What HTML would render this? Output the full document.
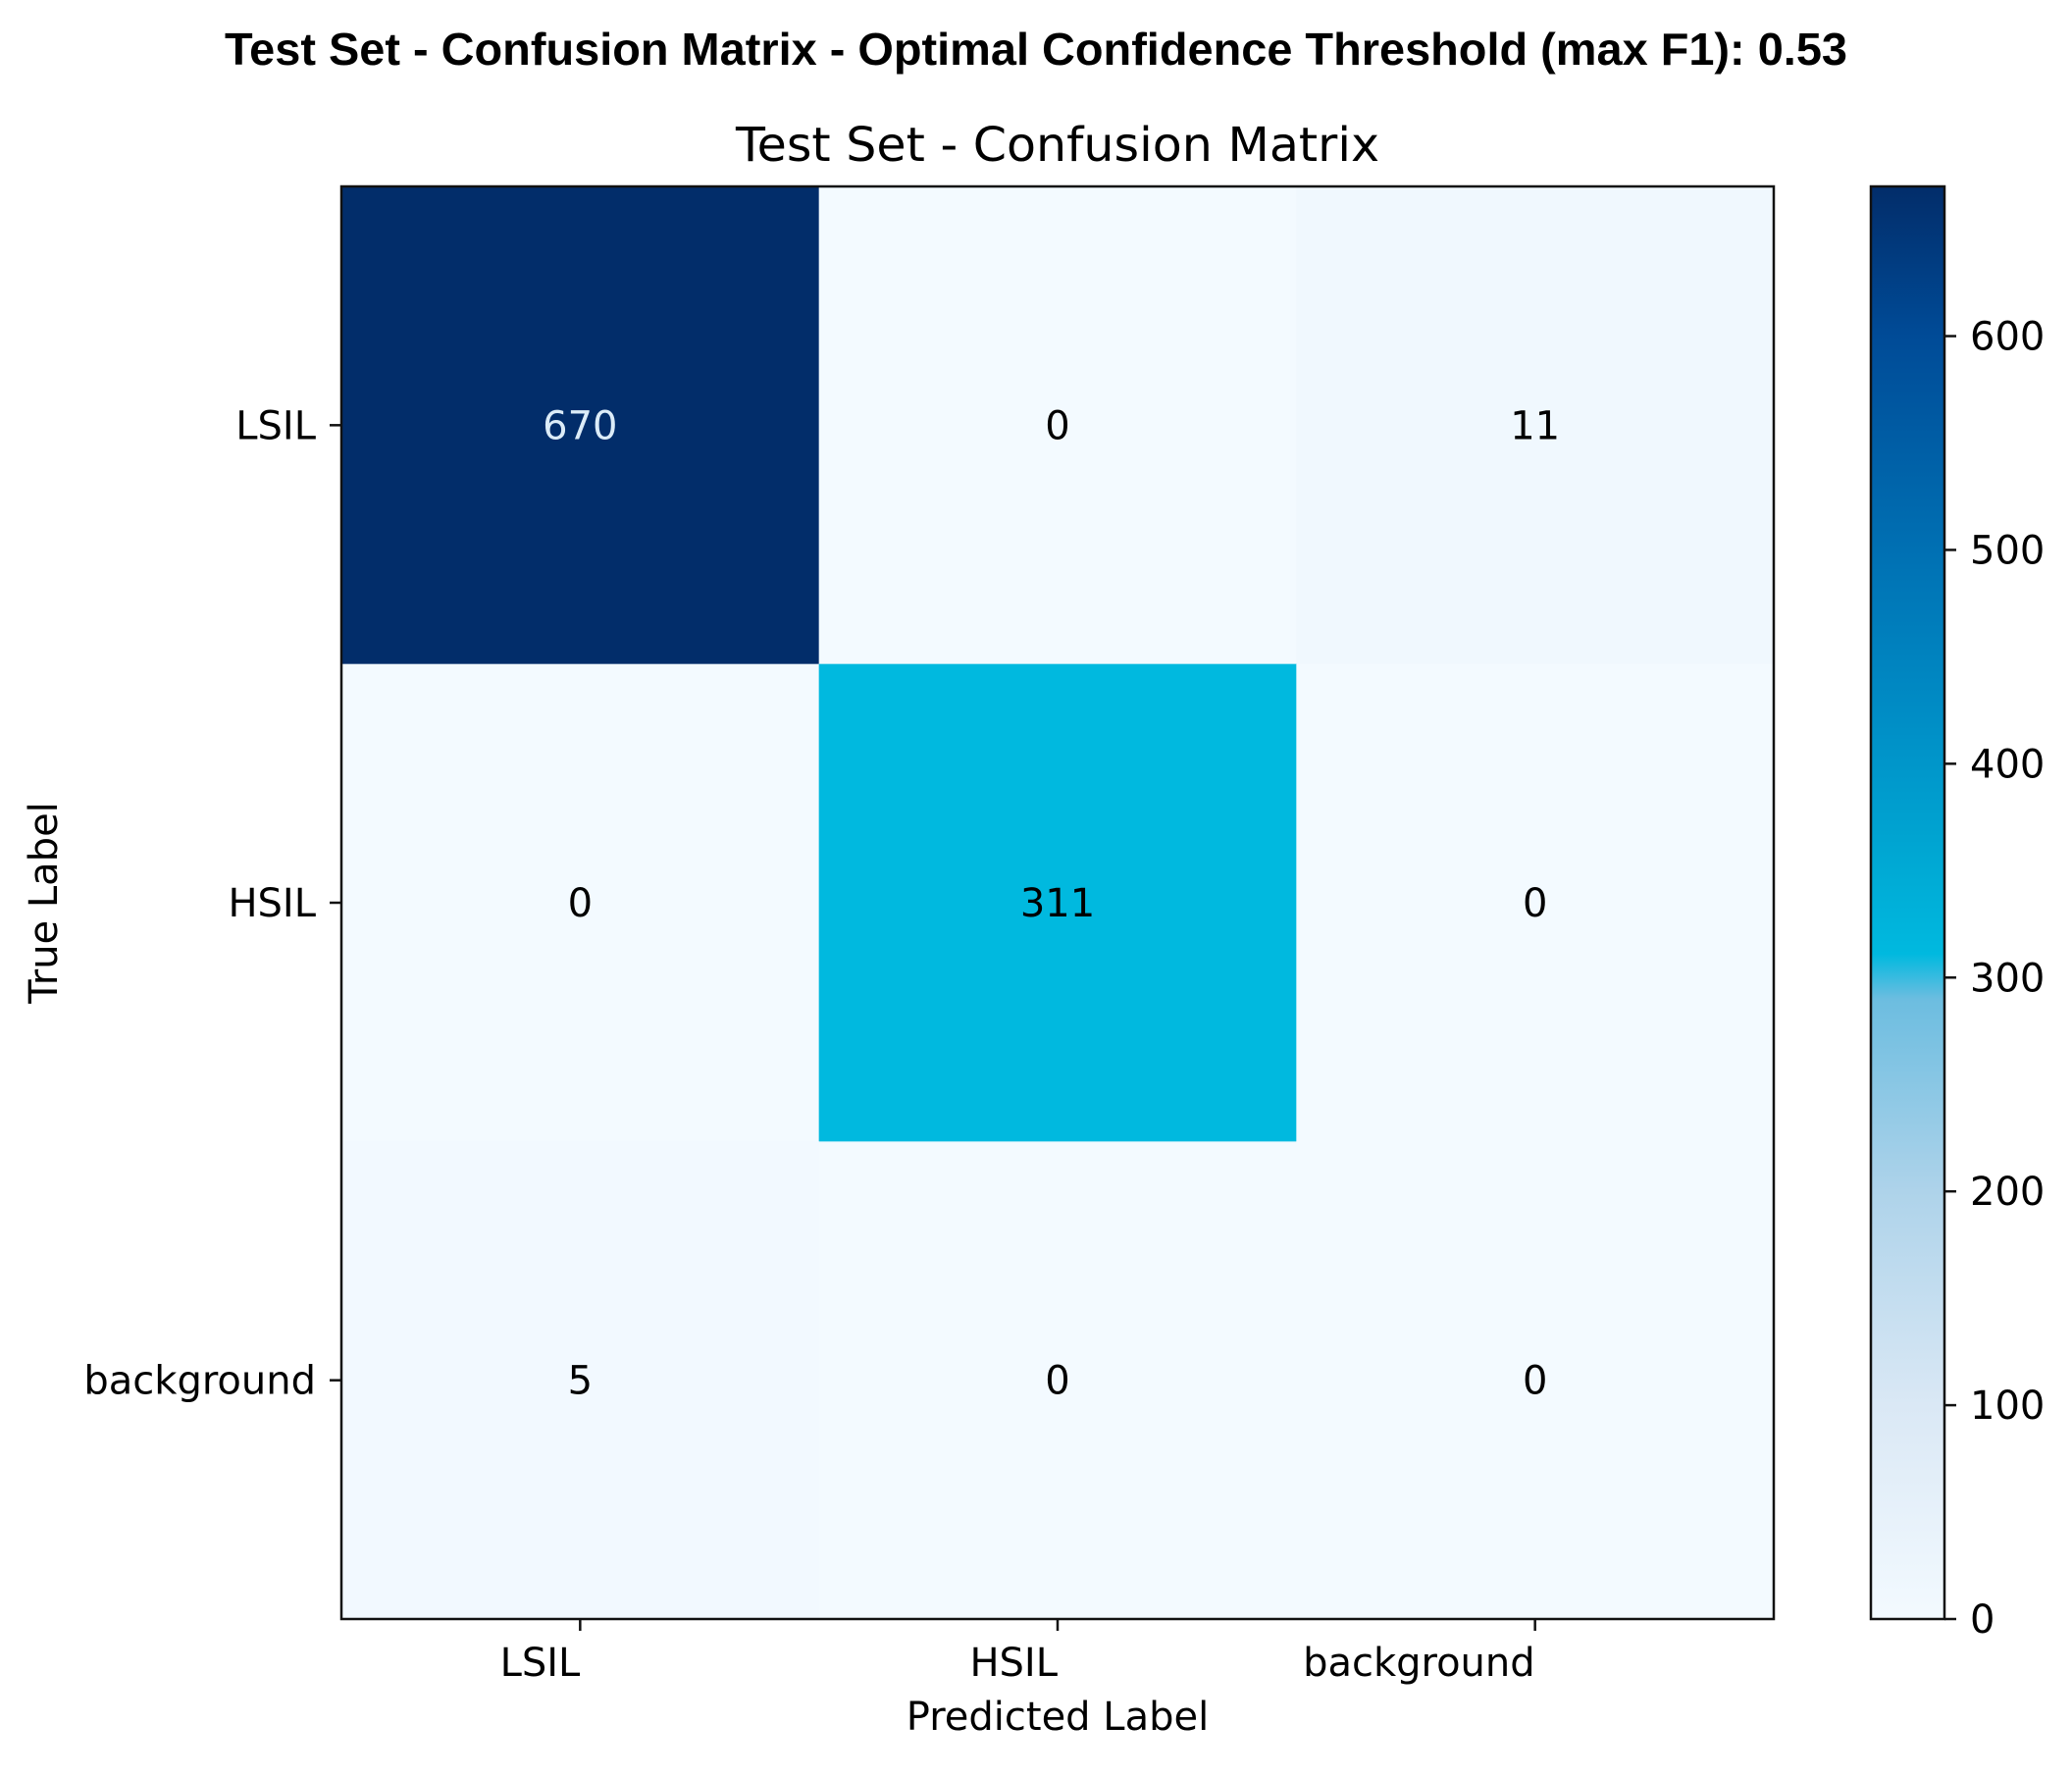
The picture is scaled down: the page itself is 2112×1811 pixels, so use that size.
<!DOCTYPE html>
<html><head><meta charset="utf-8"><style>
html,body{margin:0;padding:0;background:#fff;}
svg{display:block;font-family:"DejaVu Sans","Liberation Sans",sans-serif;}
</style></head><body>
<svg id="chart" width="2112" height="1811" viewBox="0 0 2112 1811">
<text x="1056" y="66" text-anchor="middle" font-family="Liberation Sans, sans-serif" font-weight="bold" font-size="46" textLength="1654" lengthAdjust="spacingAndGlyphs">Test Set - Confusion Matrix - Optimal Confidence Threshold (max F1): 0.53</text>
<text x="1078" y="164" text-anchor="middle" font-size="48" textLength="656" lengthAdjust="spacingAndGlyphs">Test Set -  Confusion Matrix</text>
<defs><linearGradient id="cbgrad" x1="0" y1="1" x2="0" y2="0"></linearGradient></defs>
<g id="cells"></g>
<g id="annots"></g>
<rect x="348" y="190" width="1460" height="1460" fill="none" stroke="#111" stroke-width="2.5"/>
<g id="axes" font-size="40"></g>
<text x="1078" y="1763" text-anchor="middle" font-size="40">Predicted Label</text>
<text transform="translate(58,920) rotate(-90)" text-anchor="middle" font-size="40">True Label</text>
<rect x="1907" y="190" width="75" height="1460" fill="url(#cbgrad)" stroke="#111" stroke-width="2.5"/>
<g id="cbticks" font-size="40"></g>
</svg>
<script>
const categories = ["LSIL", "HSIL", "background"];
const matrixRow0 = [670, 0, 11];
const matrixRow1 = [0, 311, 0];
const matrixRow2 = [5, 0, 0];
const matrix = [matrixRow0, matrixRow1, matrixRow2];
const colorbarTicks = [0, 100, 200, 300, 400, 500, 600];
const vmin = 0, vmax = 670;
const cmapVals = [0, 100, 200, 290, 311, 360, 420, 500, 600, 670];
const cmapCols = ["#f3faff","#dae8f5","#aed3ea","#6cbde0","#00b9df","#00a6d2","#008ec6","#0070b3","#004b97","#022d6a"];

const NS = "http://www.w3.org/2000/svg";
const L = 348, T = 190, S = 1460, n = categories.length, cs = S / n;
const xc = i => L + cs * (i + 0.5);
const yc = i => T + cs * (i + 0.5);
const cbY = v => 1650 - (v - vmin) / (vmax - vmin) * 1460;
function hex(c){return [1,3,5].map(k=>parseInt(c.substr(k,2),16));}
function color(v){
  if (v <= cmapVals[0]) return cmapCols[0];
  for (let k = 1; k < cmapVals.length; k++) {
    if (v <= cmapVals[k]) {
      const t = (v - cmapVals[k-1]) / (cmapVals[k] - cmapVals[k-1]);
      const a = hex(cmapCols[k-1]), b = hex(cmapCols[k]);
      return "rgb(" + a.map((x,j)=>Math.round(x + (b[j]-x)*t)).join(",") + ")";
    }
  }
  return cmapCols[cmapCols.length-1];
}
function mk(tag, attrs, parent){const e=document.createElementNS(NS,tag);for(const k in attrs)e.setAttribute(k,attrs[k]);parent.appendChild(e);return e;}
const grad = document.getElementById("cbgrad");
cmapVals.forEach((v,k)=>mk("stop",{offset:((v-vmin)/(vmax-vmin)),"stop-color":cmapCols[k]},grad));
const cells = document.getElementById("cells"), annots = document.getElementById("annots");
matrix.forEach((row,i)=>row.forEach((v,j)=>{
  const r = mk("rect",{x:L+cs*j,y:T+cs*i,width:cs+0.5,height:cs+0.5,fill:color(v)},cells);
  
  
  const t = mk("text",{x:xc(j),y:yc(i)+14,"text-anchor":"middle","font-size":"40",fill:v>vmax/2?"#dcecf8":"#000"},annots);
  t.textContent = v;
  
  
}));
const axes = document.getElementById("axes");
categories.forEach((c,i)=>{
  mk("line",{x1:xc(i),x2:xc(i),y1:1650,y2:1662,stroke:"#111","stroke-width":2.5},axes);
  const tx = mk("text",{x:xc(i),y:1708,"text-anchor":"end"},axes);
  tx.textContent = c;
  
  
  mk("line",{x1:336,x2:348,y1:yc(i),y2:yc(i),stroke:"#111","stroke-width":2.5},axes);
  const ty = mk("text",{x:322,y:yc(i)+14,"text-anchor":"end"},axes);
  ty.textContent = c;
  
  
});
const cbt = document.getElementById("cbticks");
colorbarTicks.forEach(v=>{
  mk("line",{x1:1982,x2:1994,y1:cbY(v),y2:cbY(v),stroke:"#111","stroke-width":2.5},cbt);
  const t = mk("text",{x:2008,y:cbY(v)+14},cbt);
  t.textContent = v;
  
  
});
</script>
</body></html>
